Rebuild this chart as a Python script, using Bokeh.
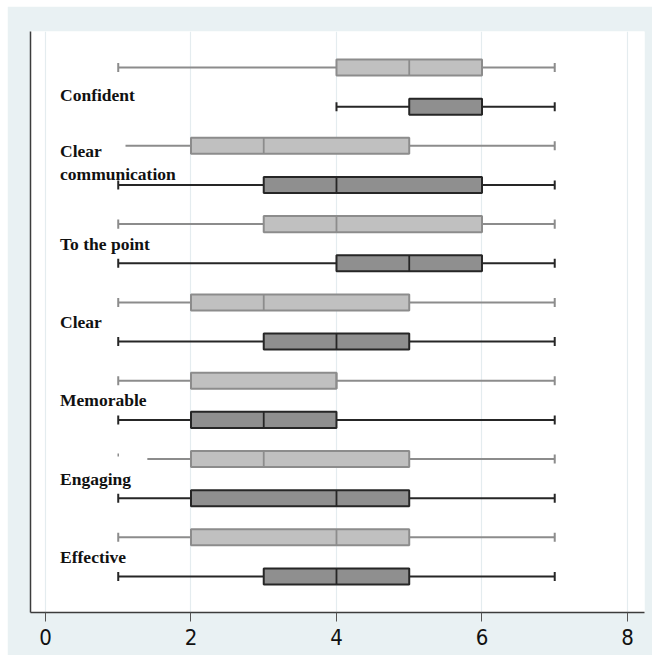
from bokeh.plotting import figure
from bokeh.models import Range1d, FixedTicker
from bokeh.core.properties import value
from bokeh.embed import file_html
from bokeh.resources import INLINE

# ---- data ----
categories = ["Confident", "Clear\ncommunication", "To the point", "Clear",
              "Memorable", "Engaging", "Effective"]

light_lo = [1, 1.1, 1, 1, 1, 1.4, 1]
light_q1 = [4, 2, 3, 2, 2, 2, 2]
light_med = [5, 3, 4, 3, 4, 3, 4]
light_q3 = [6, 5, 6, 5, 4, 5, 5]
light_hi = [7, 7, 7, 7, 7, 7, 7]

dark_lo = [4, 1, 1, 1, 1, 1, 1]
dark_q1 = [5, 3, 4, 3, 2, 2, 3]
dark_med = [6, 4, 5, 4, 3, 4, 4]
dark_q3 = [6, 6, 6, 5, 4, 5, 5]
dark_hi = [7, 7, 7, 7, 7, 7, 7]

light_outlier_cat = ["Engaging"]
light_outlier_val = [1]

x_ticks = [0, 2, 4, 6, 8]

# ---- figure ----
BG = "#e9f1f3"
p = figure(width=645, height=649, output_backend="svg", toolbar_location=None,
           x_range=Range1d(-0.206, 8.234), y_range=Range1d(13.92, -0.92),
           min_border_left=23, min_border_right=8, min_border_top=25,
           min_border_bottom=43)
p.margin = (6, 0, 0, 7)
p.background_fill_color = "white"
p.border_fill_color = BG
p.outline_line_color = None

p.yaxis.ticker = FixedTicker(ticks=[])
p.yaxis.major_tick_line_color = None
p.yaxis.minor_tick_line_color = None
p.yaxis.major_label_text_font_size = "0px"
p.yaxis.axis_line_color = "#3c3c3c"
p.yaxis.axis_line_width = 1.5
p.ygrid.grid_line_color = None

p.xaxis.ticker = FixedTicker(ticks=x_ticks)
p.xaxis.minor_tick_line_color = None
p.xaxis.major_tick_out = 9
p.xaxis.major_tick_in = 0
p.xaxis.major_tick_line_color = "#555555"
p.xaxis.axis_line_color = "#3c3c3c"
p.xaxis.axis_line_width = 1.5
p.xaxis.major_label_text_font = "DejaVu Sans Condensed"
p.xaxis.major_label_text_font_size = "22px"
p.xaxis.major_label_text_color = "#111111"
p.xaxis.major_label_standoff = 7
p.xgrid.grid_line_color = "#e4ecef"
p.xgrid.grid_line_width = 1.2

BOX_H = 0.41
CAP_H = 0.23


def draw(rows, lo, q1, med, q3, hi, fill, edge, wcol):
    # whiskers
    p.segment(x0=lo, y0=rows, x1=q1, y1=rows, line_color=wcol, line_width=2)
    p.segment(x0=q3, y0=rows, x1=hi, y1=rows, line_color=wcol, line_width=2)
    # caps (only at whole-number whisker ends)
    cx = [v for v in lo if float(v).is_integer()] + list(hi)
    cy = [r for v, r in zip(lo, rows) if float(v).is_integer()] + list(rows)
    p.segment(x0=cx, y0=[y - CAP_H / 2 for y in cy], x1=cx,
              y1=[y + CAP_H / 2 for y in cy], line_color=wcol, line_width=2)
    # boxes
    p.quad(left=q1, right=q3, bottom=[r - BOX_H / 2 for r in rows],
           top=[r + BOX_H / 2 for r in rows], fill_color=fill,
           line_color=edge, line_width=2)
    # medians
    p.segment(x0=med, y0=[r - BOX_H / 2 for r in rows], x1=med,
              y1=[r + BOX_H / 2 for r in rows], line_color=edge, line_width=1.8)


light_rows = [2 * i for i in range(len(categories))]
dark_rows = [2 * i + 1 for i in range(len(categories))]

draw(light_rows, light_lo, light_q1, light_med, light_q3, light_hi,
     "#c0c0c0", "#8c8c8c", "#8c8c8c")
draw(dark_rows, dark_lo, dark_q1, dark_med, dark_q3, dark_hi,
     "#8f8f8f", "#262626", "#262626")

# outliers
oy = [2 * categories.index(c) - 0.1 for c in light_outlier_cat]
p.scatter(x=light_outlier_val, y=oy, marker="dash", angle=1.5708, size=3,
          line_color="#8c8c8c", line_width=1.5)

# category labels
label_y = [2 * i + 0.5 for i in range(len(categories))]
label_y[0] = 0.7
label_y[1] = 2.43
p.text(x=[0.2] * len(categories), y=label_y, text=categories,
       text_font=value("Liberation Serif"), text_font_style="bold",
       text_font_size="17.5px", text_color="#111111",
       text_baseline="middle", text_align="left", text_line_height=1.12)

open("out.html", "w").write(file_html(p, INLINE))
